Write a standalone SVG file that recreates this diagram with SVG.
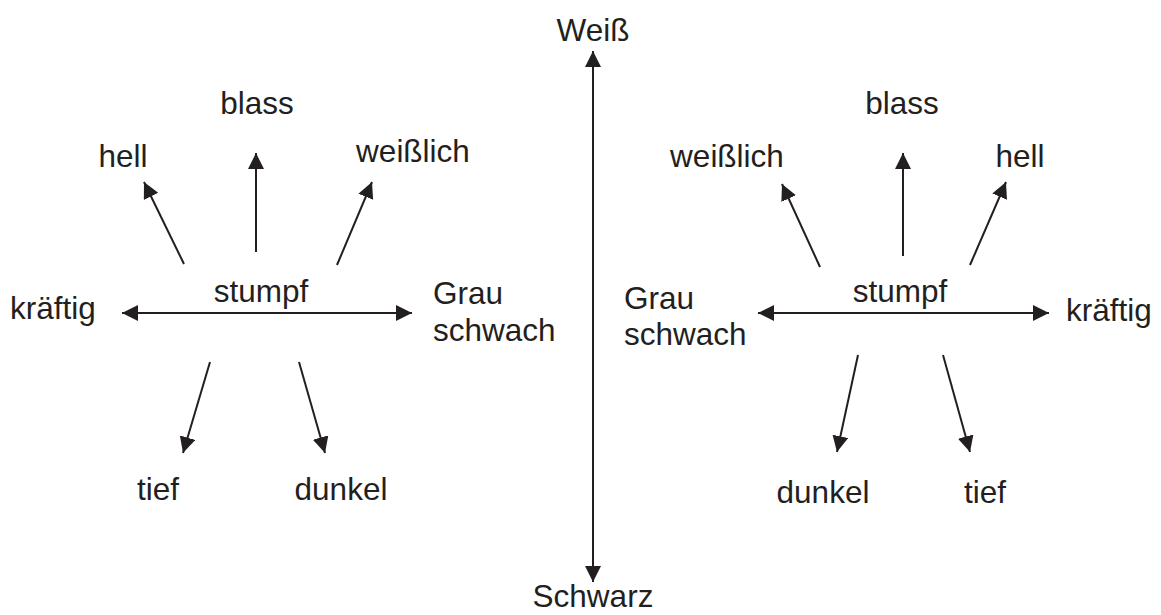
<svg xmlns="http://www.w3.org/2000/svg" width="1161" height="615" viewBox="0 0 1161 615">
  <style>
    .lbl { font-family: "Liberation Sans", Arial, sans-serif; font-size: 31.5px; fill: #231f20; }
    .mid { text-anchor: middle; }
    .arr { stroke: #231f20; stroke-width: 2; fill: none; marker-end: url(#head); }
    .dbl { marker-start: url(#head); }
  </style>
  <defs>
    <marker id="head" markerUnits="userSpaceOnUse" markerWidth="18" markerHeight="18" refX="16" refY="8" orient="auto-start-reverse">
      <path d="M0,0 L16,8 L0,16 z" fill="#231f20"/>
    </marker>
  </defs>
  <rect width="1161" height="615" fill="#ffffff"/>

  <!-- connectors -->
  <g id="connectors">
    <!-- central axis -->
    <line class="arr dbl" x1="593" y1="582" x2="593" y2="51"/>
    <!-- left cluster -->
    <line class="arr dbl" x1="122" y1="313" x2="412" y2="313"/>
    <line class="arr" x1="184" y1="264" x2="144" y2="182"/>
    <line class="arr" x1="256" y1="252" x2="256" y2="153"/>
    <line class="arr" x1="337" y1="265" x2="372" y2="182"/>
    <line class="arr" x1="210" y1="362" x2="183" y2="453"/>
    <line class="arr" x1="299" y1="362" x2="325" y2="453"/>
    <!-- right cluster -->
    <line class="arr dbl" x1="758" y1="313" x2="1049" y2="313"/>
    <line class="arr" x1="820" y1="267" x2="782" y2="184"/>
    <line class="arr" x1="903" y1="256" x2="903" y2="153"/>
    <line class="arr" x1="970" y1="265" x2="1006" y2="182"/>
    <line class="arr" x1="858" y1="355" x2="837" y2="452"/>
    <line class="arr" x1="943" y1="355" x2="970" y2="452"/>
  </g>

  <!-- axis labels -->
  <g id="weiss"><text class="lbl mid" x="593" y="41">Weiß</text></g>
  <g id="schwarz"><text class="lbl mid" x="593" y="607">Schwarz</text></g>

  <!-- left cluster labels -->
  <g id="left-stumpf"><text class="lbl mid" x="261" y="302">stumpf</text></g>
  <g id="left-kraeftig"><text class="lbl" x="10" y="319">kräftig</text></g>
  <g id="left-grau"><text class="lbl" x="433" y="304">Grau</text><text class="lbl" x="433" y="341">schwach</text></g>
  <g id="left-hell"><text class="lbl mid" x="123" y="167">hell</text></g>
  <g id="left-blass"><text class="lbl mid" x="257" y="114">blass</text></g>
  <g id="left-weisslich"><text class="lbl mid" x="413" y="162">weißlich</text></g>
  <g id="left-tief"><text class="lbl mid" x="158" y="500">tief</text></g>
  <g id="left-dunkel"><text class="lbl mid" x="341" y="500">dunkel</text></g>

  <!-- right cluster labels -->
  <g id="right-stumpf"><text class="lbl mid" x="900" y="302">stumpf</text></g>
  <g id="right-kraeftig"><text class="lbl" x="1066" y="321">kräftig</text></g>
  <g id="right-grau"><text class="lbl" x="624" y="309">Grau</text><text class="lbl" x="624" y="345">schwach</text></g>
  <g id="right-weisslich"><text class="lbl mid" x="727" y="167">weißlich</text></g>
  <g id="right-blass"><text class="lbl mid" x="902" y="114">blass</text></g>
  <g id="right-hell"><text class="lbl mid" x="1020" y="167">hell</text></g>
  <g id="right-dunkel"><text class="lbl mid" x="823" y="503">dunkel</text></g>
  <g id="right-tief"><text class="lbl mid" x="985" y="503">tief</text></g>
</svg>
